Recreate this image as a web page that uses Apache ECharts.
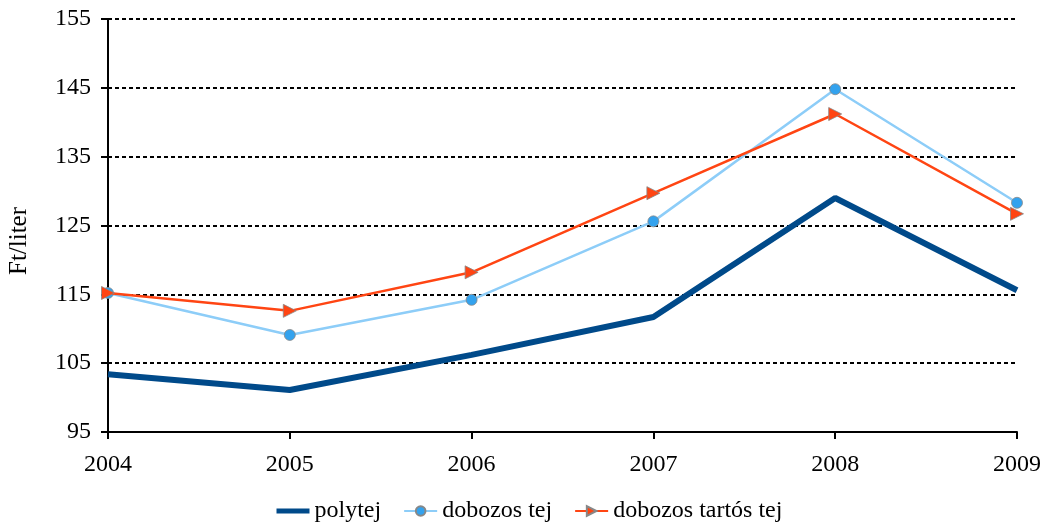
<!DOCTYPE html>
<html>
<head>
<meta charset="utf-8">
<script src="https://cdn.jsdelivr.net/npm/echarts@6/dist/echarts.min.js"></script>
<style>
html, body { margin: 0; padding: 0; background: #fff; }
#chart { width: 1050px; height: 530px; }
</style>
</head>
<body>
<div id="chart"></div>
<script>
var years = ['2004', '2005', '2006', '2007', '2008', '2009'];
var polytej = [103.4, 101.1, 106.2, 111.7, 129.0, 115.6];
var dobozosTej = [115.2, 109.1, 114.2, 125.6, 144.8, 128.3];
var dobozosTartos = [115.2, 112.6, 118.2, 129.7, 141.2, 126.7];

var font = 'Liberation Serif';
var myChart = echarts.init(document.getElementById('chart'));
var option = {
    animation: false,
    textStyle: { fontFamily: font },
    graphic: [{
        type: 'text',
        x: 19,
        y: 241,
        rotation: Math.PI / 2,
        style: {
            text: 'Ft/liter',
            fontFamily: font,
            fontSize: 25,
            fill: '#000',
            align: 'center',
            verticalAlign: 'middle'
        }
    }],
    legend: {
        bottom: 2,
        left: 269,
        itemGap: 22,
        itemWidth: 33,
        itemHeight: 12,
        textStyle: { fontFamily: font, fontSize: 24, color: '#000' },
        data: [
            { name: 'polytej', itemStyle: { opacity: 0 }, lineStyle: { width: 5 } },
            { name: 'dobozos tej' },
            { name: 'dobozos tartós tej' }
        ]
    },
    grid: {
        left: 108,
        right: 33,
        top: 19,
        bottom: 98
    },
    xAxis: {
        type: 'category',
        boundaryGap: false,
        data: years,
        axisLine: { lineStyle: { color: '#000', width: 2 } },
        axisTick: { show: true, length: 7, lineStyle: { color: '#000', width: 2 } },
        axisLabel: { color: '#000', fontSize: 24, margin: 21, fontFamily: font }
    },
    yAxis: {
        type: 'value',
        min: 95,
        max: 155,
        interval: 10,
        axisLine: { show: true, lineStyle: { color: '#000', width: 2 } },
        axisTick: { show: true, length: 7, lineStyle: { color: '#000', width: 2 } },
        axisLabel: { color: '#000', fontSize: 24, margin: 17, fontFamily: font },
        splitLine: { lineStyle: { color: '#000', type: [4, 3], width: 2 } }
    },
    series: [
        {
            name: 'polytej',
            type: 'line',
            data: polytej,
            symbol: 'none',
            lineStyle: { color: '#004A8A', width: 6 },
            itemStyle: { color: '#004A8A' },
            z: 3
        },
        {
            name: 'dobozos tej',
            type: 'line',
            data: dobozosTej,
            symbol: 'circle',
            symbolSize: 11,
            showAllSymbol: true,
            lineStyle: { color: '#8DCDF8', width: 2.5 },
            itemStyle: { color: '#33A2EE', borderColor: '#888', borderWidth: 0.8 },
            z: 4
        },
        {
            name: 'dobozos tartós tej',
            type: 'line',
            data: dobozosTartos,
            symbol: 'path://M0,0 L10,5 L0,10 Z',
            symbolSize: 13,
            showAllSymbol: true,
            lineStyle: { color: '#FF4513', width: 2.5 },
            itemStyle: { color: '#FF4513', borderColor: '#888', borderWidth: 0.8 },
            z: 5
        }
    ]
};
myChart.setOption(option);
</script>
</body>
</html>
